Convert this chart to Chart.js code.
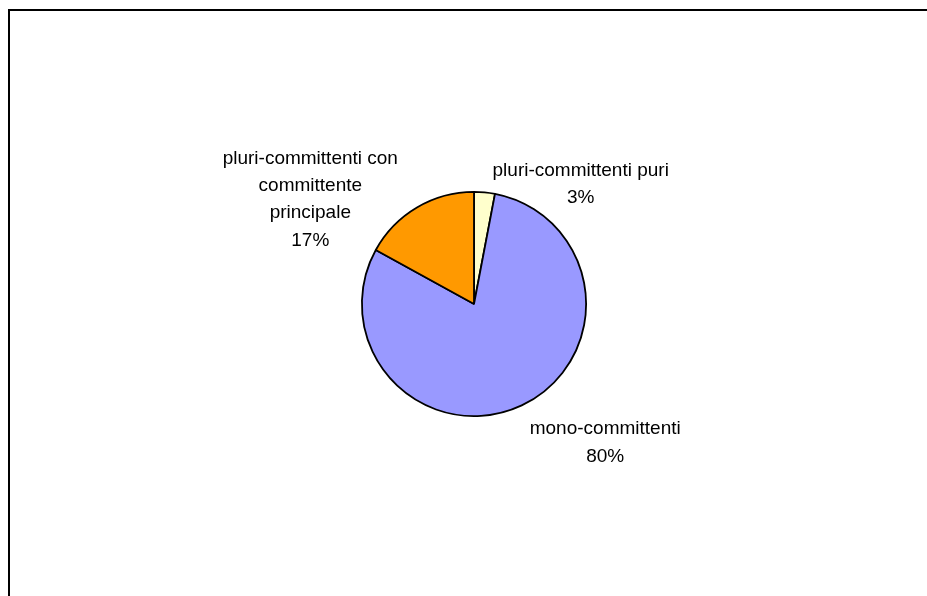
<!DOCTYPE html>
<html>
<head>
<meta charset="utf-8">
<script src="https://cdn.jsdelivr.net/npm/chart.js@4"></script>
<style>
    html, body { margin: 0; padding: 0; background: #fff; overflow: hidden; }
    #wrap { position: relative; width: 927px; height: 596px; }
    #frame {
        position: absolute; left: 8px; top: 9px; width: 1000px; height: 700px;
        border-top: 2px solid #000; border-left: 2px solid #000;
    }
    #chart { position: absolute; left: 0; top: 0; }
</style>
</head>
<body>
<div id="wrap">
    <div id="frame"></div>
    <canvas id="chart" width="927" height="596"></canvas>
</div>
<script>
// slices, clockwise from 12 o'clock
const categories = [
    ['pluri-committenti puri'],
    ['mono-committenti'],
    ['pluri-committenti con', 'committente', 'principale'],
];
const shares = [3, 80, 17];
const sliceColors = ['#FFFFCC', '#9999FF', '#FF9900'];

const FONT = '19px "Liberation Sans", Arial, sans-serif';
const LINE_H = 27.3;

// Excel-style labels: block beside the slice's outer mid point
const pieLabels = {
    id: 'pieLabels',
    afterDatasetsDraw(chart) {
        const ctx = chart.ctx;
        const meta = chart.getDatasetMeta(0);
        ctx.save();
        ctx.font = FONT;
        ctx.fillStyle = '#000';
        ctx.textAlign = 'center';
        ctx.textBaseline = 'middle';
        meta.data.forEach((arc, i) => {
            const mid = (arc.startAngle + arc.endAngle) / 2;
            const ox = arc.x + Math.cos(mid) * arc.outerRadius;
            const oy = arc.y + Math.sin(mid) * arc.outerRadius;
            const lines = [...categories[i], shares[i] + '%'];
            const w = Math.max(...lines.map(l => ctx.measureText(l).width));
            const h = lines.length * LINE_H;
            const right = Math.cos(mid) >= 0;
            const cx = right ? ox + 8 + w / 2 : ox - 19 - w / 2;
            const top = Math.sin(mid) > 0 ? oy + 10 : oy - 8 - h / 2;
            lines.forEach((l, k) => ctx.fillText(l, cx, top + LINE_H * (k + 0.5)));
        });
        ctx.restore();
    }
};

new Chart(document.getElementById('chart'), {
    type: 'pie',
    data: {
        labels: categories.map(c => c.join(' ')),
        datasets: [{
            data: shares,
            backgroundColor: sliceColors,
            borderColor: '#000',
            borderWidth: 1.8,
        }]
    },
    options: {
        responsive: false,
        animation: false,
        layout: { padding: { left: 361, right: 340, top: 191, bottom: 179 } },
        plugins: { legend: { display: false }, tooltip: { enabled: false } },
    },
    plugins: [pieLabels],
});
</script>
</body>
</html>
